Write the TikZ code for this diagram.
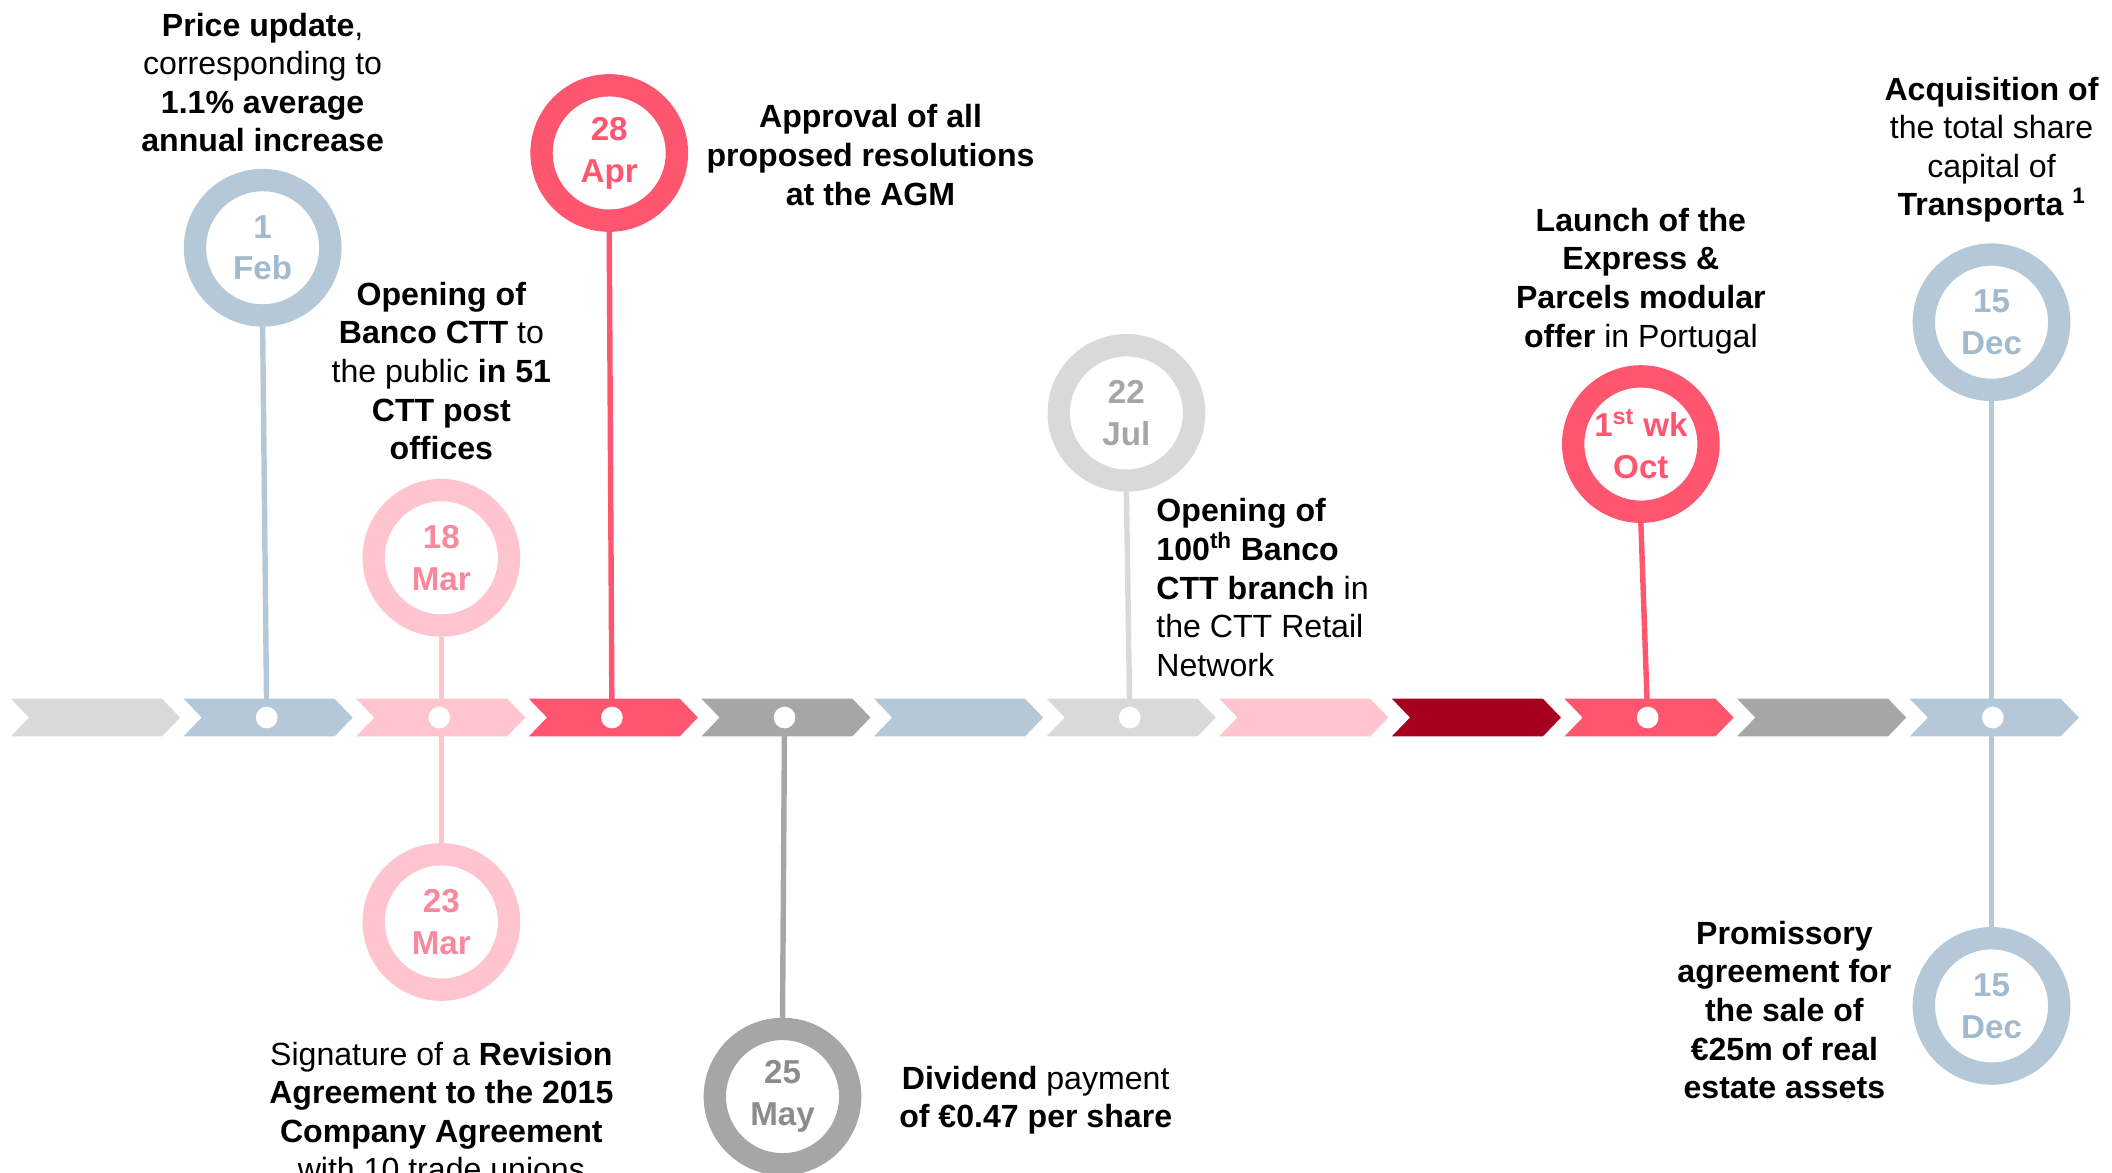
\documentclass[tikz,border=0pt]{standalone}
\usepackage{fontspec}
\setmainfont{Liberation Sans}
\usetikzlibrary{backgrounds}

\definecolor{ctlight}{HTML}{D9D9D9}
\definecolor{ctblue}{HTML}{B5C8D7}
\definecolor{ctpink}{HTML}{FFC5CF}
\definecolor{ctred}{HTML}{FF5670}
\definecolor{ctgray}{HTML}{A6A6A6}
\definecolor{ctdark}{HTML}{A6001E}
\definecolor{ctbluetxt}{HTML}{A2BACE}
\definecolor{ctpinktxt}{HTML}{F8899C}
\definecolor{ctgraytxt}{HTML}{8C8C8C}

\begin{document}
\begin{tikzpicture}[x=1pt,y=-1pt,
    date node/.style={circle,draw=#1,fill=white,line width=16.5pt,inner sep=0pt,
        minimum size=100pt,align=center,font=\fontsize{24.5}{31}\selectfont\bfseries},
    note/.style={align=center,inner sep=0pt,font=\fontsize{23.7}{28.5}\selectfont},
    stem/.style={line width=4pt}]

    \useasboundingbox (0,0) rectangle (1560,866);

    % Define dates
    \node[date node=ctblue,text=ctbluetxt] (feb1) at (194,183) {1\\Feb};
    \node[date node=ctpink,text=ctpinktxt] (mar18) at (326,412) {18\\Mar};
    \node[date node=ctpink,text=ctpinktxt] (mar23) at (326,681) {23\\Mar};
    \node[date node=ctred,text=ctred] (apr28) at (450,113) {28\\Apr};
    \node[date node=ctgray,text=ctgraytxt] (may25) at (578,810) {25\\May};
    \node[date node=ctlight,text=ctgray] (jul22) at (832,305) {22\\Jul};
    \node[date node=ctred,text=ctred] (oct1) at (1212,328) {1\textsuperscript{st} wk\\Oct};
    \node[date node=ctblue,text=ctbluetxt] (dec15a) at (1471,238) {15\\Dec};
    \node[date node=ctblue,text=ctbluetxt] (dec15b) at (1471,743) {15\\Dec};

    % Define notes
    \node[note] (feb1txt) at (194,61)
        {\textbf{Price update},\\corresponding to\\\textbf{1.1\% average}\\\textbf{annual increase}};
    \node[note] (mar18txt) at (326,274)
        {\textbf{Opening of}\\\textbf{Banco CTT} to\\the public \textbf{in 51}\\\textbf{CTT post}\\\textbf{offices}};
    \node[note] (mar23txt) at (326,821)
        {Signature of a \textbf{Revision}\\\textbf{Agreement to the 2015}\\\textbf{Company Agreement}\\with 10 trade unions};
    \node[note] (apr28txt) at (643,114.5)
        {\textbf{Approval of all}\\\textbf{proposed resolutions}\\\textbf{at the AGM}};
    \node[note] (may25txt) at (765,812.5)
        {\textbf{Dividend} payment\\\textbf{of €0.47 per share}};
    \node[note,align=left,anchor=west] (jul22txt) at (854,434)
        {\textbf{Opening of}\\\textbf{100\textsuperscript{th} Banco}\\\textbf{CTT branch} in\\the CTT Retail\\Network};
    \node[note] (oct1txt) at (1212,207.5)
        {\textbf{Launch of the}\\\textbf{Express \&}\\\textbf{Parcels modular}\\\textbf{offer} in Portugal};
    \node[note] (dec15atxt) at (1471,110.5)
        {\textbf{Acquisition of}\\the total share\\capital of\\\textbf{Transporta \textsuperscript{1}}};
    \node[note] (dec15btxt) at (1318,746)
        {\textbf{Promissory}\\\textbf{agreement for}\\\textbf{the sale of}\\\textbf{€25m of real}\\\textbf{estate assets}};

    % Draw chevrons
    \foreach \c [count=\i from 0] in {ctlight,ctblue,ctpink,ctred,ctgray,ctblue,
                                       ctlight,ctpink,ctdark,ctred,ctgray,ctblue}{
        \pgfmathsetmacro\xa{8+127.5*\i}
        \fill[\c] (\xa,516) -- ++(111.5,0) -- ++(13.5,14) -- ++(-13.5,14)
            -- ++(-111.5,0) -- ++(13.5,-14) -- cycle;
        \coordinate (s\i) at (\xa+61.5,530);
    }
    \foreach \i in {1,2,3,4,6,9,11}
        \fill[white] (s\i) circle (8pt);

    % Draw stems
    \begin{scope}[on background layer]
        \draw[stem,ctblue] (feb1.south) -- (s1);
        \draw[stem,ctpink] (mar18.south) -- (mar23.north);
        \draw[stem,ctred] (apr28.south) -- (s3);
        \draw[stem,ctgray] (s4) -- (may25.north);
        \draw[stem,ctlight] (jul22.south) -- (s6);
        \draw[stem,ctred] (oct1.south) -- (s9);
        \draw[stem,ctblue] (dec15a.south) -- (dec15b.north);
    \end{scope}

\end{tikzpicture}
\end{document}
